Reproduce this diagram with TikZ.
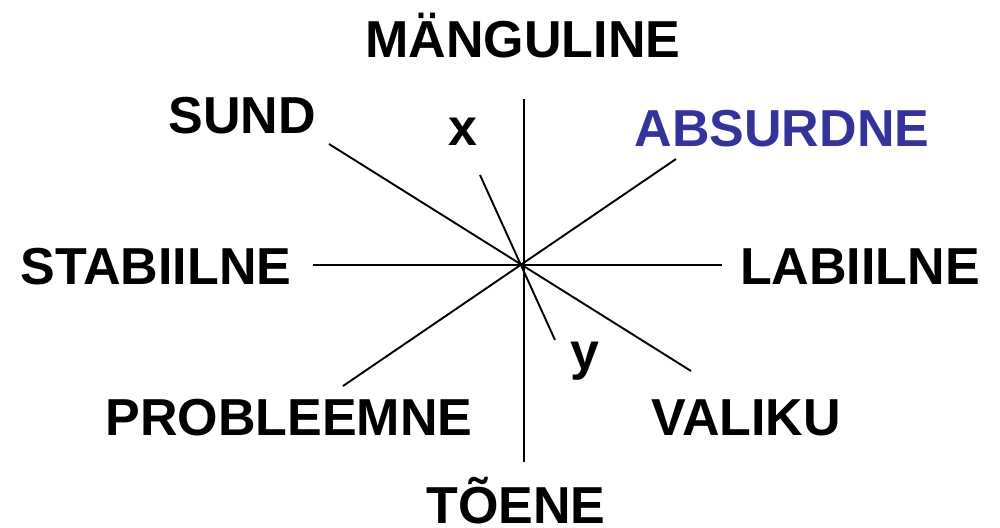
\documentclass[tikz,border=0pt]{standalone}
\usepackage{fontspec}
\setmainfont{Liberation Sans}
\usepackage{xcolor}
\usepackage{tikz}
\usetikzlibrary{positioning}
\definecolor{absblue}{HTML}{333399}

\begin{document}
\begin{tikzpicture}[x=1pt,y=-1pt,
lbl/.style={font=\fontsize{52}{60}\selectfont\bfseries,inner sep=0pt,anchor=base},
spoke/.style={line width=1.9pt,color=black}
]
\useasboundingbox (0,0) rectangle (1000,527);
% spoke ends
\coordinate (top) at (524,99);
\coordinate (bot) at (524,462);
\coordinate (lft) at (313,265);
\coordinate (rgt) at (722,265);
\coordinate (nw) at (329,144);
\coordinate (se) at (691,371);
\coordinate (ne) at (676,159);
\coordinate (sw) at (343,386);
\coordinate (xend) at (480,175);
\coordinate (yend) at (555,340);
% labels
\node[lbl] (mang) at (523,57) {MÄNGULINE};
\node[lbl] (sund) at (242,133) {SUND};
\node[lbl] (xlab) at (463,145) {x};
\node[lbl,text=absblue] (abs) at (782,146) {ABSURDNE};
\node[lbl] (stab) at (156,284) {STABIILNE};
\node[lbl] (lab) at (860,284) {LABIILNE};
\node[lbl] (ylab) at (585,369) {y};
\node[lbl] (prob) at (289,435) {PROBLEEMNE};
\node[lbl] (val) at (746,435) {VALIKU};
\node[lbl] (toe) at (516,523) {TÕENE};
% spokes
\draw[spoke] (top)--(bot);
\draw[spoke] (lft)--(rgt);
\draw[spoke] (nw)--(se);
\draw[spoke] (ne)--(sw);
\draw[spoke] (xend)--(yend);
\end{tikzpicture}
\end{document}
